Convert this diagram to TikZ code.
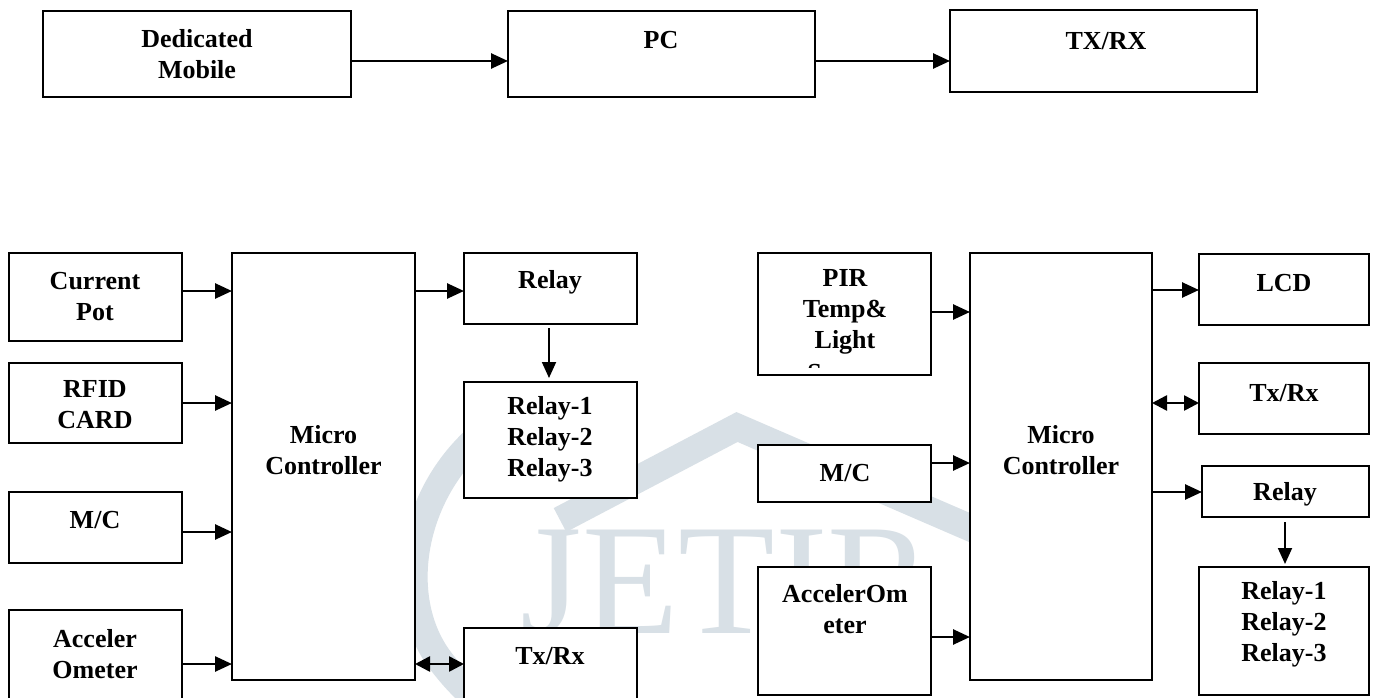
\documentclass[tikz,border=0pt]{standalone}
\usepackage{fontspec}
\setmainfont{Liberation Serif}
\usetikzlibrary{arrows.meta}
\definecolor{wm}{RGB}{216,224,230}
\tikzset{
  x=1pt, y=-1pt,
  box/.style={draw=black, fill=white, line width=1.6pt, anchor=north west, inner sep=0pt, outer sep=0pt},
  txt/.style={font=\fontsize{26}{31}\selectfont\bfseries, align=center, inner sep=0pt},
  arr/.style={line width=2.6pt, -{Triangle[length=17pt,width=15pt]}},
  varr/.style={line width=1.8pt, -{Triangle[length=16pt,width=14pt]}},
  darr/.style={line width=2.6pt, {Triangle[length=15pt,width=15pt]}-{Triangle[length=15pt,width=15pt]}},
  wmline/.style={wm, line width=27pt},
}
\newcommand{\bx}[5]{\node[box, minimum width=#4pt, minimum height=#5pt] (#1) at (#2,#3) {};}
\begin{document}
\begin{tikzpicture}
\clip (0,0) rectangle (1373,698);
\fill[white] (0,0) rectangle (1373,698);
% watermark
\draw[wmline, line join=miter] (560,520) -- (737,427) -- (1010,545);
\draw[wmline] (475,440) .. controls (410,500) and (395,600) .. (440,660) .. controls (455,680) and (470,695) .. (490,710);
\node[wm, font=\fontsize{158}{158}\selectfont, anchor=base, inner sep=0pt] (wmtext) at (727,633) {JETIR};
% top row
\bx{dm}{43}{11}{308}{86}
\bx{pc}{508}{11}{307}{86}
\bx{trx}{950}{10}{307}{82}
\node[txt] (dmt) at (197,54) {Dedicated\\Mobile};
\node[txt] (pct) at (661,40) {PC};
\node[txt] (trxt) at (1106,41) {TX/RX};
\draw[arr] (dm.east |- 0,61) -- (pc.west |- 0,61);
\draw[arr] (pc.east |- 0,61) -- (trx.west |- 0,61);
% left block
\bx{cp}{9}{253}{173}{88}
\bx{rf}{9}{363}{173}{80}
\bx{mcl}{9}{492}{173}{71}
\bx{acl}{9}{610}{173}{120}
\bx{mul}{232}{253}{183}{427}
\bx{rl}{464}{253}{173}{71}
\bx{rrl}{464}{382}{173}{116}
\bx{txl}{464}{628}{173}{100}
\node[txt] (cpt) at (95,297) {Current\\Pot};
\node[txt] (rft) at (95,405) {RFID\\CARD};
\node[txt] (mclt) at (95,520) {M/C};
\node[txt] (aclt) at (95,654) {Acceler\\Ometer};
\node[txt] (mult) at (323.5,450) {Micro\\Controller};
\node[txt] (rlt) at (550,282) {Relay};
\node[txt] (rrlt) at (550,439) {Relay-1\\Relay-2\\Relay-3};
\node[txt] (txlt) at (550,656) {Tx/Rx};
\draw[arr] (cp.east |- 0,291) -- (mul.west |- 0,291);
\draw[arr] (rf.east |- 0,403) -- (mul.west |- 0,403);
\draw[arr] (mcl.east |- 0,532) -- (mul.west |- 0,532);
\draw[arr] (acl.east |- 0,664) -- (mul.west |- 0,664);
\draw[arr] (mul.east |- 0,291) -- (rl.west |- 0,291);
\coordinate (lds) at (549,328);
\coordinate (lde) at (549,378);
\draw[varr] (lds) -- (lde);
\draw[darr] (mul.east |- 0,664) -- (txl.west |- 0,664);
% right block
\bx{pir}{758}{253}{173}{122}
\bx{mcr}{758}{445}{173}{57}
\bx{acr}{758}{567}{173}{128}
\bx{mur}{970}{253}{182}{427}
\bx{lcd}{1199}{254}{170}{71}
\bx{txr}{1199}{363}{170}{71}
\bx{rr}{1202}{466}{167}{51}
\bx{rrr}{1199}{567}{170}{128}
\node[txt] (pirt) at (845,312) {PIR\\Temp\&\\Light};
\begin{scope}
\clip (760,300) rectangle (929,367);
\node[txt, anchor=base] (pirs) at (845,381) {Sensor};
\end{scope}
\node[txt] (mcrt) at (845,473) {M/C};
\node[txt] (acrt) at (845,609) {AccelerOm\\eter};
\node[txt] (murt) at (1061,450) {Micro\\Controller};
\node[txt] (lcdt) at (1284,283) {LCD};
\node[txt] (txrt) at (1284,393) {Tx/Rx};
\node[txt] (rrt) at (1285,494) {Relay};
\node[txt] (rrrt) at (1284,624) {Relay-1\\Relay-2\\Relay-3};
\draw[arr] (pir.east |- 0,312) -- (mur.west |- 0,312);
\draw[arr] (mcr.east |- 0,463) -- (mur.west |- 0,463);
\draw[arr] (acr.east |- 0,637) -- (mur.west |- 0,637);
\draw[arr] (mur.east |- 0,290) -- (lcd.west |- 0,290);
\draw[darr] (mur.east |- 0,403) -- (txr.west |- 0,403);
\draw[arr] (mur.east |- 0,492) -- (rr.west |- 0,492);
\coordinate (rds) at (1285,522);
\coordinate (rde) at (1285,564);
\draw[varr] (rds) -- (rde);
\end{tikzpicture}
\end{document}
